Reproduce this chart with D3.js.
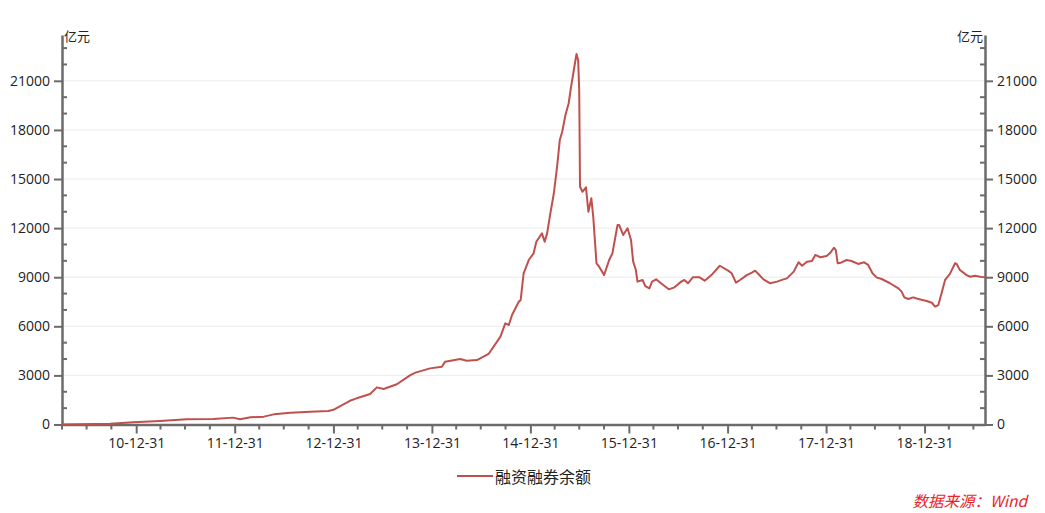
<!DOCTYPE html>
<html>
<head>
<meta charset="utf-8">
<script src="https://cdn.jsdelivr.net/npm/d3@7/dist/d3.min.js"></script>
<style>
  html, body { margin: 0; padding: 0; background: #fff; }
  svg { display: block; }
  .num { font-family: "Open Sans", "Noto Sans CJK SC", sans-serif; font-size: 14px; fill: #222; }
  .cjk { font-family: "Noto Sans CJK SC", sans-serif; fill: #222; }
</style>
</head>
<body>
<svg id="chart" width="1045" height="513"></svg>
<script>
// ---- data (亿元) ----
const dates = [
  "2010-03-31","2010-09-25","2010-12-20","2011-03-29","2011-07-06","2011-10-13","2011-12-25",
  "2012-01-20","2012-02-28","2012-04-17","2012-05-24","2012-07-25","2012-10-07","2012-12-12",
  "2012-12-31","2013-03-02","2013-03-27","2013-05-16","2013-06-10","2013-07-05","2013-08-23",
  "2013-10-12","2013-10-31","2013-12-24","2014-02-06","2014-02-18","2014-04-15","2014-05-09",
  "2014-06-16","2014-07-29","2014-09-11","2014-09-29","2014-10-12","2014-10-24","2014-11-18",
  "2014-11-25","2014-12-06","2014-12-25","2015-01-12","2015-01-22","2015-02-12","2015-02-22",
  "2015-03-03","2015-03-15","2015-03-28","2015-04-09","2015-04-19","2015-04-28","2015-05-10",
  "2015-05-22","2015-05-29","2015-06-10","2015-06-20","2015-06-26","2015-06-30","2015-07-03",
  "2015-07-12","2015-07-25","2015-08-03","2015-08-14","2015-08-21","2015-09-02","2015-09-12",
  "2015-09-30","2015-10-19","2015-10-31","2015-11-19","2015-11-25","2015-12-10","2015-12-26",
  "2016-01-08","2016-01-16","2016-01-26","2016-02-01","2016-02-20","2016-03-01","2016-03-16",
  "2016-03-26","2016-04-10","2016-04-28","2016-05-27","2016-06-17","2016-07-12","2016-07-24",
  "2016-08-06","2016-08-24","2016-09-18","2016-10-07","2016-11-01","2016-12-02","2017-01-02",
  "2017-01-15","2017-01-31","2017-02-15","2017-03-12","2017-03-31","2017-04-12","2017-04-24",
  "2017-05-13","2017-06-07","2017-07-02","2017-07-26","2017-08-08","2017-09-02","2017-09-20",
  "2017-10-03","2017-10-21","2017-11-09","2017-11-21","2017-12-10","2018-01-02","2018-01-14",
  "2018-01-29","2018-02-05","2018-02-12","2018-02-24","2018-03-17","2018-04-04","2018-04-29",
  "2018-05-21","2018-06-05","2018-06-21","2018-07-06","2018-07-25","2018-08-25","2018-09-25",
  "2018-10-07","2018-10-17","2018-11-01","2018-11-19","2018-12-08","2019-01-08","2019-01-27",
  "2019-02-08","2019-02-20","2019-03-04","2019-03-17","2019-04-04","2019-04-23","2019-04-29",
  "2019-05-11","2019-06-05","2019-06-18","2019-07-06","2019-07-25","2019-08-12"
];
const balance = [
  1,40,130,210,320,340,420,
  320,440,480,620,720,780,820,
  900,1450,1600,1860,2270,2170,2460,
  3020,3170,3430,3530,3840,4000,3900,
  3940,4310,5370,6180,6080,6690,7500,
  7610,9240,10050,10460,11170,11680,11170,
  11680,12900,14130,15750,17380,17890,18910,
  19630,20440,21660,22640,22270,20440,14530,
  14220,14490,13000,13820,12700,9850,9640,
  9130,10050,10460,12190,12190,11580,11990,
  11270,9950,9440,8730,8830,8460,8320,
  8730,8870,8630,8260,8380,8730,8830,
  8630,8990,8990,8790,9130,9700,9400,
  9240,8670,8830,9130,9280,9400,9200,
  8870,8630,8730,8870,8930,9340,9910,
  9700,9950,9990,10360,10220,10300,10460,
  10800,10660,9850,9890,10050,9990,9810,
  9910,9750,9240,8990,8890,8630,8320,
  8120,7770,7670,7770,7670,7550,7440,
  7200,7300,8020,8830,9200,9850,9810,
  9440,9130,9030,9090,9030,8990
];
const yTicks = [0,3000,6000,9000,12000,15000,18000,21000];
const yMinorTicks = [1000,2000,4000,5000,7000,8000,10000,11000,13000,14000,16000,17000,19000,20000,22000,23000];
const xMajorTicks = ["2010-12-31","2011-12-31","2012-12-31","2013-12-31","2014-12-31","2015-12-31","2016-12-31","2017-12-31","2018-12-31"];
const xMinorTicks = ["2010-03-31","2010-06-30","2010-09-30","2011-03-31","2011-06-30","2011-09-30","2012-03-31","2012-06-30","2012-09-30","2013-03-31","2013-06-30","2013-09-30","2014-03-31","2014-06-30","2014-09-30","2015-03-31","2015-06-30","2015-09-30","2016-03-31","2016-06-30","2016-09-30","2017-03-31","2017-06-30","2017-09-30","2018-03-31","2018-06-30","2018-09-30","2019-03-31","2019-06-30"];
const seriesName = "融资融券余额";
const unitLabel = "亿元";
const sourceText = "数据来源：Wind";
const xDomain = ["2010-03-31","2019-08-12"];
const yMax = 23800;

// ---- chart ----
(function () {
const parse = d3.utcParse("%Y-%m-%d");
const fmtX = d3.utcFormat("%y-%m-%d");
const data = dates.map((d, i) => ({ date: parse(d), value: balance[i] }));

const svg = d3.select("#chart");
const mLeft = 62, mRight = 985, mTop = 35, mBottom = 424.5;

const x = d3.scaleUtc().domain(xDomain.map(parse)).range([mLeft, mRight]);
const y = d3.scaleLinear().domain([0, yMax]).range([mBottom, mTop]);

const axisColor = "#6b6b6b";

// gridlines
svg.append("g").selectAll("line").data(yTicks.filter(v => v > 0)).join("line")
  .attr("x1", mLeft).attr("x2", mRight)
  .attr("y1", d => y(d)).attr("y2", d => y(d))
  .attr("stroke", "#ebebeb").attr("stroke-width", 1);

// left axis
const gL = svg.append("g").attr("transform", `translate(${mLeft},0)`);
gL.call(d3.axisLeft(y).tickValues(yTicks).tickSize(8).tickSizeOuter(0).tickPadding(2).tickFormat(d3.format("d")));
gL.append("g").selectAll("line").data(yMinorTicks).join("line")
  .attr("x1", 0).attr("x2", 5).attr("y1", d => y(d)).attr("y2", d => y(d));

// right axis
const gR = svg.append("g").attr("transform", `translate(${mRight},0)`);
gR.call(d3.axisRight(y).tickValues(yTicks).tickSize(8).tickSizeOuter(0).tickPadding(2).tickFormat(d3.format("d")));
gR.append("g").selectAll("line").data(yMinorTicks).join("line")
  .attr("x1", 0).attr("x2", -5).attr("y1", d => y(d)).attr("y2", d => y(d));

// bottom axis
const gB = svg.append("g").attr("transform", `translate(0,${mBottom})`);
gB.call(d3.axisBottom(x).tickValues(xMajorTicks.map(parse)).tickSize(9).tickSizeOuter(0).tickPadding(5).tickFormat(fmtX));
gB.append("g").selectAll("line").data(xMinorTicks.map(parse)).join("line")
  .attr("x1", d => x(d)).attr("x2", d => x(d)).attr("y1", 0).attr("y2", 5);

[gL, gR, gB].forEach(g => {
  g.select(".domain").attr("stroke", axisColor).attr("stroke-width", 2.5);
  g.selectAll("line").attr("stroke", axisColor).attr("stroke-width", 2);
  g.selectAll("text").attr("class", "num").attr("fill", "#222");
});
gL.selectAll(".tick text").attr("dx", "-2");
gR.selectAll(".tick text").attr("dx", "2");

// unit labels
svg.append("text").attr("class", "cjk").attr("x", mLeft + 2).attr("y", 41)
  .attr("font-size", 13).text(unitLabel);
svg.append("text").attr("class", "cjk").attr("x", mRight - 2).attr("y", 41)
  .attr("font-size", 13).attr("text-anchor", "end").text(unitLabel);

// line
const lineColor = "#c0504d";
svg.append("path").datum(data)
  .attr("fill", "none").attr("stroke", lineColor).attr("stroke-width", 2)
  .attr("stroke-linejoin", "round")
  .attr("d", d3.line().x(d => x(d.date)).y(d => y(d.value)));

// legend
const lg = svg.append("g");
lg.append("line").attr("x1", 457).attr("x2", 493).attr("y1", 476).attr("y2", 476)
  .attr("stroke", lineColor).attr("stroke-width", 2);
lg.append("text").attr("class", "cjk").attr("x", 495).attr("y", 476)
  .attr("dominant-baseline", "central").attr("font-size", 16).text(seriesName);

// source
svg.append("text").attr("x", 1027).attr("y", 500)
  .attr("text-anchor", "end").attr("dominant-baseline", "central")
  .attr("font-family", "'Noto Sans CJK SC', sans-serif").attr("font-size", 15.5)
  .attr("font-style", "italic").attr("fill", "#e8262b").text(sourceText);
})();
</script>
</body>
</html>
